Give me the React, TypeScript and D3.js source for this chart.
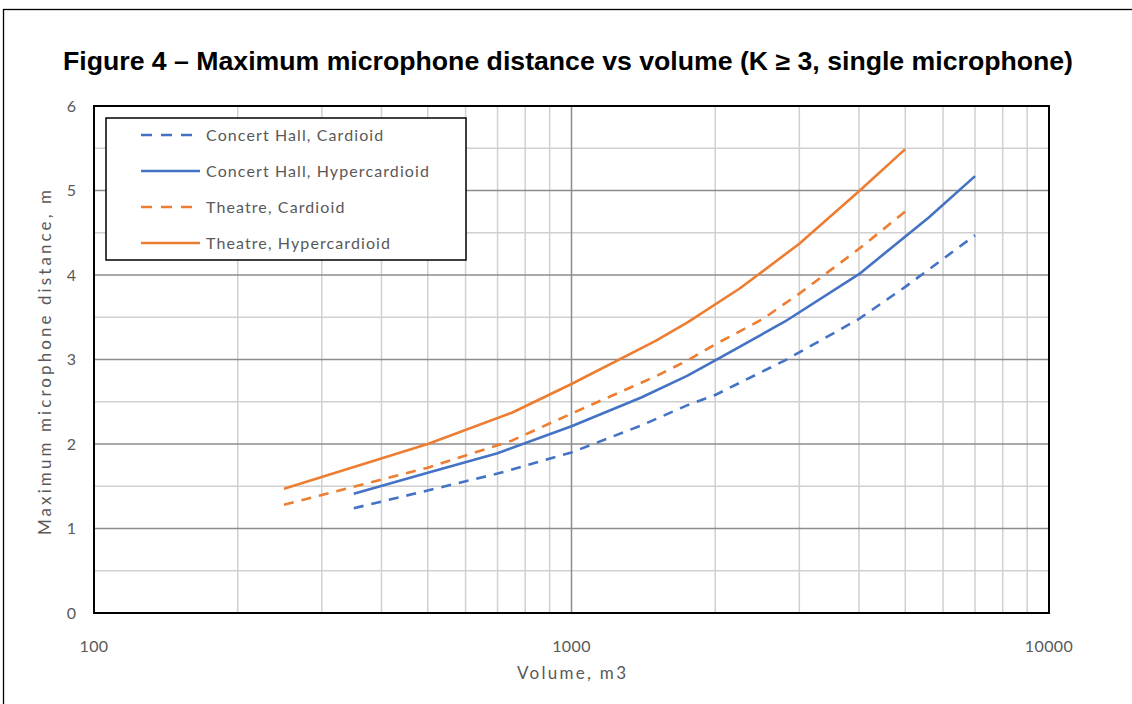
import React, { useEffect, useRef } from 'react'
import * as d3 from 'd3'

// volumes (m3) and max microphone distances (m)
const theatreHyperVol = [250, 500, 750, 1000, 1500, 1750, 2250, 3000, 4000, 5000]
const theatreHyperDist = [1.47, 2.0, 2.37, 2.71, 3.22, 3.44, 3.84, 4.37, 4.99, 5.49]

const theatreCardVol = [250, 500, 750, 1000, 1500, 1750, 2000, 2500, 3000, 4000, 5000]
const theatreCardDist = [1.28, 1.72, 2.04, 2.36, 2.8, 2.99, 3.18, 3.47, 3.78, 4.31, 4.75]

const hallHyperVol = [350, 500, 700, 1000, 1400, 1750, 2000, 2800, 4000, 5600, 7000]
const hallHyperDist = [1.41, 1.66, 1.89, 2.21, 2.55, 2.81, 2.99, 3.45, 4.01, 4.68, 5.17]

const hallCardVol = [350, 500, 700, 1000, 1400, 1750, 2000, 2800, 4000, 5000, 6000, 7000]
const hallCardDist = [1.24, 1.45, 1.65, 1.9, 2.22, 2.46, 2.58, 2.99, 3.48, 3.86, 4.19, 4.47]

const seriesNames = [
  'Concert Hall, Cardioid',
  'Concert Hall, Hypercardioid',
  'Theatre, Cardioid',
  'Theatre, Hypercardioid',
]

const xTicks = [100, 1000, 10000]
const yTicks = [0, 1, 2, 3, 4, 5, 6]

const BLUE = '#4472C4'
const ORANGE = '#ED7D31'

type Pt = { v: number; d: number }

function zip(vol: number[], dist: number[]): Pt[] {
  return vol.map((v, i) => ({ v, d: dist[i] }))
}

function App() {
  const svgRef = useRef<SVGSVGElement | null>(null)

  const width = 1132
  const height = 704
  const left = 94
  const right = 1049
  const top = 106
  const bottom = 613

  useEffect(() => {
    const svg = d3.select(svgRef.current)
    svg.selectAll('*').remove()

    const x = d3.scaleLog().domain([100, 10000]).range([left, right])
    const y = d3.scaleLinear().domain([0, 6]).range([bottom, top])

    // outer frame
    svg.append('rect')
      .attr('x', 3.5).attr('y', 9.5)
      .attr('width', width + 20).attr('height', height + 20)
      .attr('fill', '#fff').attr('stroke', '#000').attr('stroke-width', 1.3)

    // title
    svg.append('text')
      .attr('x', 63).attr('y', 70)
      .attr('textLength', 1010)
      .attr('lengthAdjust', 'spacingAndGlyphs')
      .style('font-family', '"Liberation Sans", Arial, sans-serif')
      .style('font-weight', 'bold')
      .style('font-size', '25px')
      .attr('fill', '#000')
      .text('Figure 4 \u2013 Maximum microphone distance vs volume (K \u2265 3, single microphone)')

    const grid = svg.append('g')

    // minor gridlines
    const minorY = d3.range(0.5, 6, 1)
    grid.selectAll('.my').data(minorY).enter().append('line')
      .attr('x1', left).attr('x2', right)
      .attr('y1', d => y(d)).attr('y2', d => y(d))
      .attr('stroke', '#d0d0d0').attr('stroke-width', 1.5)

    const minorX: number[] = []
    for (const dec of [100, 1000]) {
      for (let k = 2; k <= 9; k++) minorX.push(dec * k)
    }
    grid.selectAll('.mx').data(minorX).enter().append('line')
      .attr('y1', top).attr('y2', bottom)
      .attr('x1', d => x(d)).attr('x2', d => x(d))
      .attr('stroke', '#d0d0d0').attr('stroke-width', 1.5)

    // major gridlines
    grid.selectAll('.My').data(yTicks.slice(1, -1)).enter().append('line')
      .attr('x1', left).attr('x2', right)
      .attr('y1', d => y(d)).attr('y2', d => y(d))
      .attr('stroke', '#8c8c8c').attr('stroke-width', 1.5)
    grid.selectAll('.Mx').data([1000]).enter().append('line')
      .attr('y1', top).attr('y2', bottom)
      .attr('x1', d => x(d)).attr('x2', d => x(d))
      .attr('stroke', '#8c8c8c').attr('stroke-width', 1.5)

    // plot border
    svg.append('rect')
      .attr('x', left).attr('y', top)
      .attr('width', right - left).attr('height', bottom - top)
      .attr('fill', 'none').attr('stroke', '#000').attr('stroke-width', 2)

    // tick labels
    const tickFont = 'Lato, "Open Sans", sans-serif'
    svg.selectAll('.xt').data(xTicks).enter().append('text')
      .attr('x', d => x(d)).attr('y', 652)
      .attr('text-anchor', 'middle')
      .style('font-family', tickFont).style('font-size', '16px')
      .style('letter-spacing', '0.4px')
      .attr('fill', '#595959')
      .text(d => String(d))
    svg.selectAll('.yt').data(yTicks).enter().append('text')
      .attr('x', 76).attr('y', d => y(d) + 5.5)
      .attr('text-anchor', 'end')
      .style('font-family', tickFont).style('font-size', '16px')
      .attr('fill', '#595959')
      .text(d => String(d))

    // axis titles
    svg.append('text')
      .attr('x', 517).attr('y', 679)
      .attr('textLength', 109)
      .attr('lengthAdjust', 'spacing')
      .style('font-family', tickFont).style('font-size', '17px')
      .attr('fill', '#595959')
      .text('Volume, m3')
    svg.append('text')
      .attr('transform', `translate(51,535) rotate(-90)`)
      .attr('textLength', 345)
      .attr('lengthAdjust', 'spacing')
      .style('font-family', tickFont).style('font-size', '17px')
      .attr('fill', '#595959')
      .text('Maximum microphone distance, m')

    const line = d3.line<Pt>().x(p => x(p.v)).y(p => y(p.d))

    const series = [
      { data: zip(hallCardVol, hallCardDist), color: BLUE, dash: '10,8' },
      { data: zip(hallHyperVol, hallHyperDist), color: BLUE, dash: null },
      { data: zip(theatreCardVol, theatreCardDist), color: ORANGE, dash: '10,8' },
      { data: zip(theatreHyperVol, theatreHyperDist), color: ORANGE, dash: null },
    ]

    series.forEach(s => {
      svg.append('path')
        .attr('d', line(s.data))
        .attr('fill', 'none')
        .attr('stroke', s.color)
        .attr('stroke-width', 2.6)
        .attr('stroke-linejoin', 'round')
        .attr('stroke-dasharray', s.dash)
    })

    // legend
    const lg = svg.append('g')
    lg.append('rect')
      .attr('x', 106).attr('y', 118)
      .attr('width', 360).attr('height', 142)
      .attr('fill', '#fff').attr('stroke', '#000').attr('stroke-width', 1.5)
    const rowY = [135, 171, 207, 243]
    series.forEach((s, i) => {
      lg.append('line')
        .attr('x1', 141).attr('x2', 200)
        .attr('y1', rowY[i]).attr('y2', rowY[i])
        .attr('stroke', s.color).attr('stroke-width', 2.6)
        .attr('stroke-dasharray', s.dash ? '11,9' : null)
      lg.append('text')
        .attr('x', 206).attr('y', rowY[i] + 5.5)
        .style('font-family', tickFont).style('font-size', '16px')
        .style('letter-spacing', '1.1px')
        .attr('fill', '#595959')
        .text(seriesNames[i])
    })
  }, [])

  return (
    <svg
      ref={svgRef}
      width={width}
      height={height}
      style={{ position: 'absolute', left: 0, top: 0, display: 'block', background: '#fff' }}
    />
  )
}

export default App
